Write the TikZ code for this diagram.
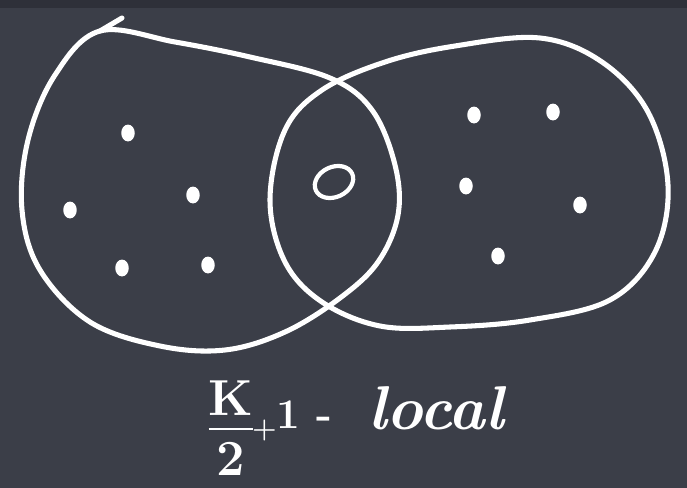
\documentclass[tikz,border=0pt]{standalone}
\usepackage{tikz}
\usetikzlibrary{positioning}

\definecolor{board}{RGB}{59,62,72}
\definecolor{boardtop}{RGB}{46,48,57}

\begin{document}
\begin{tikzpicture}[
    x=0.025cm, y=-0.025cm,
    chalk/.style={draw=white, line width=3.6pt, line cap=round, line join=round},
    dotmark/.style={fill=white},
    chalktext/.style={text=white, inner sep=0pt}
]
    % Board
    \fill [board] (0,0) rectangle (687,488);
    \fill [boardtop] (0,0) rectangle (687,8);
    \useasboundingbox (0,0) rectangle (687,488);

    % Left loop (with the stroke start tick)
    \draw [chalk] (122,18) -- (100,31);
    \draw [chalk] plot [smooth cycle, tension=0.6] coordinates {
        (100,31) (55,75) (28,140) (22,210) (40,270) (90,322) (160,346) (225,350)
        (285,332) (340,298) (378,262) (398,215) (395,165) (372,110) (330,78)
        (250,57) (175,42)};

    % Right loop
    \draw [chalk] plot [smooth cycle, tension=0.6] coordinates {
        (270,200) (285,130) (322,90) (385,62) (455,46) (540,38) (602,62) (648,112)
        (668,185) (655,252) (610,300) (530,320) (450,327) (380,326) (322,302) (285,262)};

    % Dots
    \foreach \x/\y [count=\i] in {128/133, 70/210, 193/195, 122/268, 208/265,
                                  474/115, 553/112, 466/186, 580/205, 498/256} {
        \fill [dotmark] (\x,\y) ellipse (4.8pt and 6pt);
    }

    % Hollow mark in the overlap
    \draw [draw=white, line width=3pt, rotate around={25:(334,182)}] (334,182) ellipse (20 and 15);

    % Label
    \setlength{\arrayrulewidth}{2pt}
    \node [chalktext, font=\fontsize{36}{40}\selectfont\bfseries] (frac) at (231,434)
        {\begin{tabular}{@{}c@{}}K\\[-3pt]\hline\noalign{\vskip4pt}2\end{tabular}};
    \node [chalktext, font=\fontsize{30}{34}\selectfont\bfseries] (plusone) at (292,421)
        {\raisebox{-7pt}{\fontsize{20}{22}\selectfont +}1 -};
    \node [chalktext, font=\fontsize{44}{48}\selectfont\bfseries\itshape] (local) at (436,408) {local};
\end{tikzpicture}
\end{document}
